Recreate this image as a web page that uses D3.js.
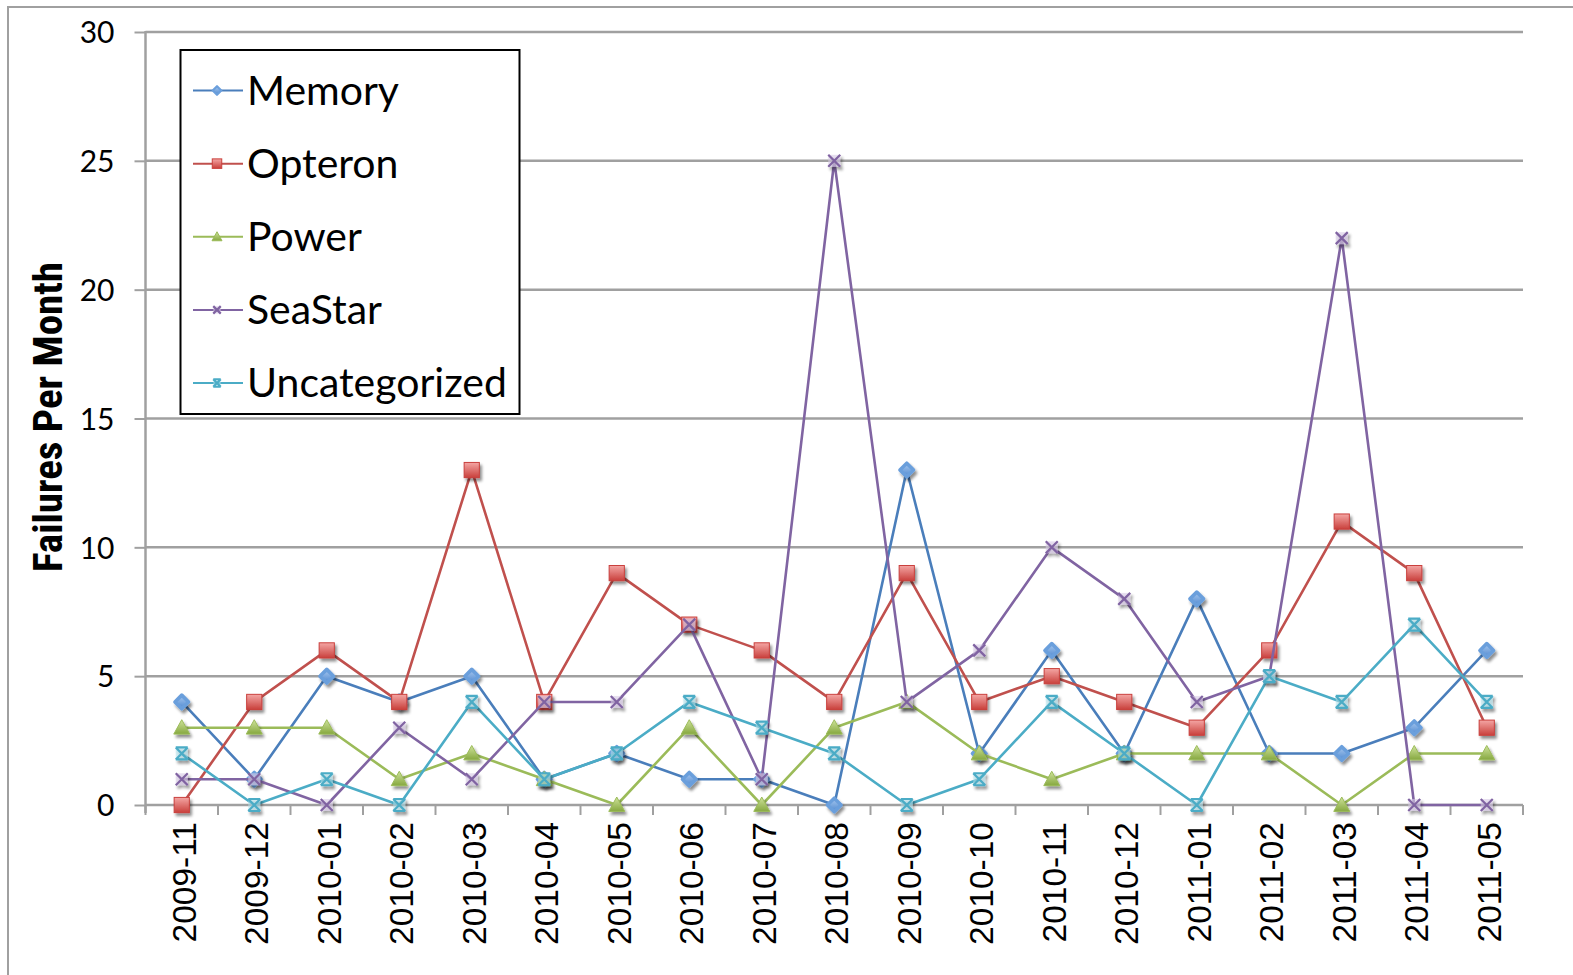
<!DOCTYPE html>
<html>
<head>
<meta charset="utf-8">
<script src="https://cdn.jsdelivr.net/npm/d3@7"></script>
<style>
  html, body { margin: 0; padding: 0; background: #fff; }
  svg { display: block; }
</style>
</head>
<body>
<svg id="chart" width="1573" height="975"></svg>
<script>
// Monthly failure counts by component category
const months = ["2009-11","2009-12","2010-01","2010-02","2010-03","2010-04","2010-05","2010-06","2010-07","2010-08","2010-09","2010-10","2010-11","2010-12","2011-01","2011-02","2011-03","2011-04","2011-05"];
const memory        = [4,1,5,4,5,1,2,1,1,0,13,2,6,2,8,2,2,3,6];
const opteron       = [0,4,6,4,13,4,9,7,6,4,9,4,5,4,3,6,11,9,3];
const power         = [3,3,3,1,2,1,0,3,0,3,4,2,1,2,2,2,0,2,2];
const seastar       = [1,1,0,3,1,4,4,7,1,25,4,6,10,8,4,5,22,0,0];
const uncategorized = [2,0,1,0,4,1,2,4,3,2,0,1,4,2,0,5,4,7,4];
const yTicks = [0,5,10,15,20,25,30];
const seriesNames = ["Memory","Opteron","Power","SeaStar","Uncategorized"];

const series = [
  {name: seriesNames[0], values: memory,        color: "#4a7ebb", edge: "#6b9fdc", light: "#a9c9f0", dark: "#5089cf", marker: "diamond"},
  {name: seriesNames[1], values: opteron,       color: "#c0504d", edge: "#c9403c", light: "#f4a6a4", dark: "#c9403c", marker: "square"},
  {name: seriesNames[2], values: power,         color: "#9bbb59", edge: "#9bbb59", light: "#cfe39c", dark: "#86a83f", marker: "triangle"},
  {name: seriesNames[3], values: seastar,       color: "#8064a2", edge: "#8064a2", light: "#d8cce8", dark: "#7a5c9e", marker: "x"},
  {name: seriesNames[4], values: uncategorized, color: "#4bacc6", edge: "#4bacc6", light: "#b5e3ef", dark: "#3aa3bf", marker: "star"}
];

const svg = d3.select("#chart");
const plotLeft = 145.5, plotRight = 1523, plotTop = 32, plotBottom = 805;

const x = d3.scaleBand().domain(months).range([plotLeft, plotRight]);
const y = d3.scaleLinear().domain([0, 30]).range([plotBottom, plotTop]);
const cx = m => x(m) + x.bandwidth() / 2;

// defs: gradients and marker shadow
const defs = svg.append("defs");
const sh = defs.append("filter").attr("id", "shadow").attr("x", "-60%").attr("y", "-60%").attr("width", "220%").attr("height", "220%");
sh.append("feGaussianBlur").attr("in", "SourceAlpha").attr("stdDeviation", 1.8).attr("result", "b");
sh.append("feOffset").attr("in", "b").attr("dx", 1.5).attr("dy", 3).attr("result", "o");
sh.append("feComponentTransfer").attr("in", "o").attr("result", "s")
  .append("feFuncA").attr("type", "linear").attr("slope", 0.45);
const mg = sh.append("feMerge");
mg.append("feMergeNode").attr("in", "s");
mg.append("feMergeNode").attr("in", "SourceGraphic");

series.forEach((s, i) => {
  const g = defs.append("linearGradient").attr("id", "grad" + i)
    .attr("x1", 0).attr("y1", 0).attr("x2", 0).attr("y2", 1);
  g.append("stop").attr("offset", "0%").attr("stop-color", s.light);
  g.append("stop").attr("offset", "100%").attr("stop-color", s.dark);
});

// outer frame
svg.append("path").attr("d", `M8,975 V7 H1573`).attr("fill", "none")
  .attr("stroke", "#a0a0a0").attr("stroke-width", 2);

// horizontal gridlines
svg.append("g").selectAll("line").data(yTicks.filter(t => t > 0)).join("line")
  .attr("x1", plotLeft).attr("x2", plotRight).attr("y1", d => y(d)).attr("y2", d => y(d))
  .attr("stroke", "#a0a0a0").attr("stroke-width", 2.5);

// y axis
const yAxis = svg.append("g").attr("transform", `translate(${plotLeft},0)`)
  .call(d3.axisLeft(y).tickValues(yTicks).tickSize(11).tickPadding(20));
yAxis.select(".domain").remove();
yAxis.selectAll(".tick line").attr("stroke", "#a0a0a0").attr("stroke-width", 2);
yAxis.selectAll(".tick text").attr("font-family", "Lato, 'Open Sans', sans-serif")
  .attr("font-size", 30).attr("fill", "#000").attr("dy", "0.36em");
svg.append("line").attr("x1", plotLeft).attr("x2", plotLeft).attr("y1", plotTop - 1).attr("y2", plotBottom + 8)
  .attr("stroke", "#a0a0a0").attr("stroke-width", 2.5);

// x axis: baseline, ticks on band boundaries, rotated labels
svg.append("line").attr("x1", plotLeft).attr("x2", plotRight).attr("y1", plotBottom).attr("y2", plotBottom)
  .attr("stroke", "#a0a0a0").attr("stroke-width", 2.5);
const edges = months.map(m => x(m)).concat([plotRight]);
svg.append("g").selectAll("line").data(edges).join("line")
  .attr("x1", d => d).attr("x2", d => d).attr("y1", plotBottom).attr("y2", plotBottom + 10)
  .attr("stroke", "#a0a0a0").attr("stroke-width", 2);
svg.append("g").selectAll("text").data(months).join("text")
  .attr("transform", d => `translate(${cx(d) + 14},${plotBottom + 17}) rotate(-90)`)
  .attr("text-anchor", "end")
  .attr("font-family", "'Liberation Sans', Arial, sans-serif")
  .attr("font-size", 33.5).attr("fill", "#000")
  .text(d => d);

// y axis title
const yTitle = svg.append("text")
  .attr("transform", `translate(62,${(262 + 572) / 2}) rotate(-90)`)
  .attr("text-anchor", "middle")
  .attr("font-family", "'Liberation Sans Narrow', 'Roboto Condensed', 'Open Sans', sans-serif")
  .attr("font-weight", "bold").attr("font-size", 30).attr("fill", "#000")
  .text("Failures Per Month");
{
  const w = yTitle.node().getComputedTextLength();
  yTitle.attr("font-size", 30 * 310 / w);
}

// marker shapes
function drawMarker(g, s, i, size) {
  const fill = `url(#grad${i})`;
  const r = size;
  if (s.marker === "diamond") {
    const d = r * 0.85;
    g.append("path").attr("d", `M0,${-d} L${d},0 L0,${d} L${-d},0 Z`)
      .attr("fill", fill).attr("stroke", s.edge).attr("stroke-width", r * 0.45).attr("stroke-linejoin", "round");
  } else if (s.marker === "square") {
    const h = r * 0.95;
    g.append("rect").attr("x", -h).attr("y", -h).attr("width", 2 * h).attr("height", 2 * h)
      .attr("fill", fill).attr("stroke", s.edge).attr("stroke-width", 1);
  } else if (s.marker === "triangle") {
    g.append("path").attr("d", `M0,${-r} L${r},${r * 0.8} L${-r},${r * 0.8} Z`)
      .attr("fill", fill).attr("stroke", s.edge).attr("stroke-width", 1);
  } else if (s.marker === "x") {
    const h = r * 0.75;
    g.append("rect").attr("x", -h).attr("y", -h).attr("width", 2 * h).attr("height", 2 * h)
      .attr("fill", s.light).attr("opacity", 0.6);
    g.append("path").attr("d", `M${-h},${-h} L${h},${h} M${h},${-h} L${-h},${h}`)
      .attr("stroke", s.edge).attr("stroke-width", 2.2).attr("fill", "none");
  } else if (s.marker === "star") {
    const h = r * 0.75;
    g.append("rect").attr("x", -h).attr("y", -h).attr("width", 2 * h).attr("height", 2 * h)
      .attr("fill", s.light).attr("opacity", 0.55);
    g.append("path").attr("d", `M${-h},${-h} L${h},${h} M${h},${-h} L${-h},${h} M${-h},${-h} H${h} M${-h},${h} H${h}`)
      .attr("stroke", s.edge).attr("stroke-width", 2.2).attr("fill", "none");
  }
}

// series lines and markers
const line = d3.line().x((d, j) => cx(months[j])).y(d => y(d));
series.forEach((s, i) => {
  const g = svg.append("g");
  g.append("path").datum(s.values).attr("d", line)
    .attr("fill", "none").attr("stroke", s.color).attr("stroke-width", 2.6)
    .attr("stroke-linejoin", "round");
  g.selectAll("g.mk").data(s.values).join("g").attr("class", "mk")
    .attr("transform", (d, j) => `translate(${cx(months[j])},${y(d)})`)
    .attr("filter", "url(#shadow)")
    .each(function () { drawMarker(d3.select(this), s, i, 8); });
});

// legend
const lg = svg.append("g");
lg.append("rect").attr("x", 180.5).attr("y", 50).attr("width", 339).attr("height", 364)
  .attr("fill", "#fff").attr("stroke", "#000").attr("stroke-width", 2);
const rowY = d3.scalePoint().domain(seriesNames).range([90.5, 383]);
const legendTexts = [];
series.forEach((s, i) => {
  const ry = rowY(s.name);
  const item = lg.append("g");
  item.append("line").attr("x1", 193).attr("x2", 243).attr("y1", ry).attr("y2", ry)
    .attr("stroke", s.color).attr("stroke-width", 2);
  const mk = item.append("g").attr("transform", `translate(217,${ry})`);
  drawMarker(mk, s, i, 5);
  legendTexts.push(item.append("text").attr("x", 247).attr("y", ry).attr("dy", "0.35em")
    .attr("font-family", "Lato, 'Open Sans', sans-serif").attr("font-size", 38)
    .attr("fill", "#000").text(s.name));
});
{
  const w = legendTexts[4].node().getComputedTextLength();
  const fs = 38 * 260 / w;
  legendTexts.forEach(t => t.attr("font-size", fs));
}
</script>
</body>
</html>
